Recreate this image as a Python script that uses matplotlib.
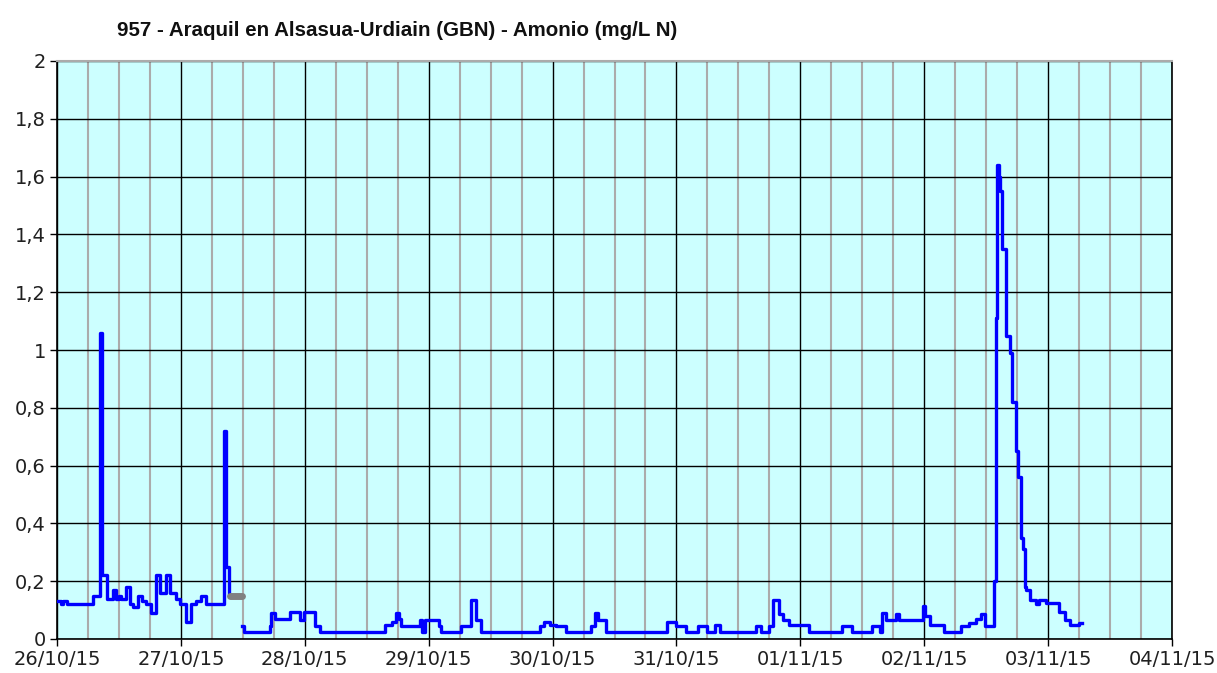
import datetime as dt
import numpy as np
import matplotlib
matplotlib.use("Agg")
import matplotlib.pyplot as plt
import matplotlib.dates as mdates
from matplotlib.ticker import FuncFormatter

# ---- data (time offsets in days from 26/10/15 00:00, values in mg/L N) ----
title = "957 - Araquil en Alsasua-Urdiain (GBN) - Amonio (mg/L N)"
start = dt.datetime(2015, 10, 26)

seg1_t = [0.00, 0.03, 0.05, 0.08, 0.29, 0.345, 0.365, 0.40, 0.45, 0.48, 0.50, 0.52,
          0.56, 0.59, 0.61, 0.65, 0.69, 0.72, 0.76, 0.80, 0.83, 0.88, 0.91, 0.96,
          0.99, 1.04, 1.08, 1.12, 1.16, 1.20, 1.345, 1.365, 1.39, 1.41]
seg1_v = [0.13, 0.12, 0.13, 0.12, 0.15, 1.06, 0.22, 0.14, 0.17, 0.14, 0.15, 0.14,
          0.18, 0.12, 0.11, 0.15, 0.13, 0.12, 0.09, 0.22, 0.16, 0.22, 0.16, 0.14,
          0.12, 0.06, 0.12, 0.13, 0.15, 0.12, 0.72, 0.25, 0.15, 0.15]

gray_t = [1.40, 1.49]
gray_v = [0.15, 0.15]

seg2_t = [1.49, 1.51, 1.72, 1.73, 1.76, 1.88, 1.96, 1.99, 2.08, 2.12, 2.65, 2.70,
          2.74, 2.76, 2.78, 2.93, 2.95, 2.97, 3.08, 3.10, 3.26, 3.34, 3.38, 3.42,
          3.90, 3.93, 3.98, 4.03, 4.11, 4.31, 4.34, 4.37, 4.43, 4.92, 5.00, 5.08,
          5.17, 5.25, 5.31, 5.35, 5.64, 5.68, 5.75, 5.78, 5.83, 5.86, 5.91, 6.07,
          6.34, 6.42, 6.58, 6.64, 6.66, 6.69, 6.77, 6.80, 6.99, 7.01, 7.05, 7.16,
          7.30, 7.36, 7.42, 7.46, 7.49, 7.56, 7.58, 7.59, 7.60, 7.61, 7.63, 7.66,
          7.69, 7.71, 7.74, 7.76, 7.78, 7.80, 7.81, 7.82, 7.85, 7.90, 7.93, 7.98,
          8.09, 8.14, 8.18, 8.25, 8.27]
seg2_v = [0.045, 0.025, 0.045, 0.09, 0.07, 0.095, 0.065, 0.095, 0.045, 0.025, 0.05, 0.06,
          0.09, 0.07, 0.045, 0.065, 0.025, 0.065, 0.045, 0.025, 0.045, 0.135, 0.065, 0.025,
          0.045, 0.06, 0.05, 0.045, 0.025, 0.045, 0.09, 0.065, 0.025, 0.06, 0.045, 0.025,
          0.045, 0.025, 0.05, 0.025, 0.045, 0.025, 0.045, 0.135, 0.085, 0.065, 0.05, 0.025,
          0.045, 0.025, 0.045, 0.025, 0.09, 0.065, 0.085, 0.065, 0.115, 0.08, 0.05, 0.025,
          0.045, 0.055, 0.07, 0.085, 0.045, 0.20, 1.11, 1.64, 1.60, 1.55, 1.35, 1.05,
          0.99, 0.82, 0.65, 0.56, 0.35, 0.31, 0.18, 0.17, 0.135, 0.12, 0.135, 0.125,
          0.095, 0.065, 0.048, 0.055, 0.055]

y_ticks = [0, 0.2, 0.4, 0.6, 0.8, 1.0, 1.2, 1.4, 1.6, 1.8, 2.0]


def to_dates(ts):
    return [start + dt.timedelta(days=t) for t in ts]


fig = plt.figure(figsize=(12.17, 6.73), dpi=100)
ax = fig.add_axes([57 / 1217, 34 / 673, (1172 - 57) / 1217, (639 - 61) / 673])
ax.set_facecolor("#CCFFFF")

ax.plot(to_dates(seg1_t), seg1_v, drawstyle="steps-post", color="#0000FF", lw=2.4, zorder=3)
ax.plot(to_dates(gray_t), gray_v, color="#808080", lw=5, solid_capstyle="round", zorder=3)
ax.plot(to_dates(seg2_t), seg2_v, drawstyle="steps-post", color="#0000FF", lw=2.4, zorder=3)

ax.set_xlim(start, start + dt.timedelta(days=9))
ax.set_ylim(0, 2)

ax.xaxis.set_major_locator(mdates.DayLocator())
ax.xaxis.set_major_formatter(mdates.DateFormatter("%d/%m/%y"))
ax.xaxis.set_minor_locator(mdates.HourLocator(byhour=[6, 12, 18]))
ax.set_yticks(y_ticks)
ax.yaxis.set_major_formatter(FuncFormatter(lambda v, p: ("%g" % v).replace(".", ",")))

ax.grid(which="minor", axis="x", color="#ABABAB", lw=1.5, zorder=1)
ax.grid(which="major", axis="both", color="#000000", lw=1.0, zorder=2)
ax.set_axisbelow(True)

ax.tick_params(axis="both", which="major", direction="out", length=5, width=1,
               labelsize=14, colors="black", pad=3)
ax.tick_params(axis="x", which="minor", length=0)
for lab in ax.get_xticklabels() + ax.get_yticklabels():
    lab.set_color("#202020")

for s in ["left", "bottom", "right"]:
    ax.spines[s].set_color("black")
    ax.spines[s].set_linewidth(1.2)
ax.spines["top"].set_color("#ABABAB")
ax.spines["top"].set_linewidth(1.5)

fig.text(117 / 1217, 1 - 30 / 673, title, fontsize=14.8, fontweight="bold",
         family="Liberation Sans", ha="left", va="center", color="#101010")

fig.savefig("out.png", dpi=100)
